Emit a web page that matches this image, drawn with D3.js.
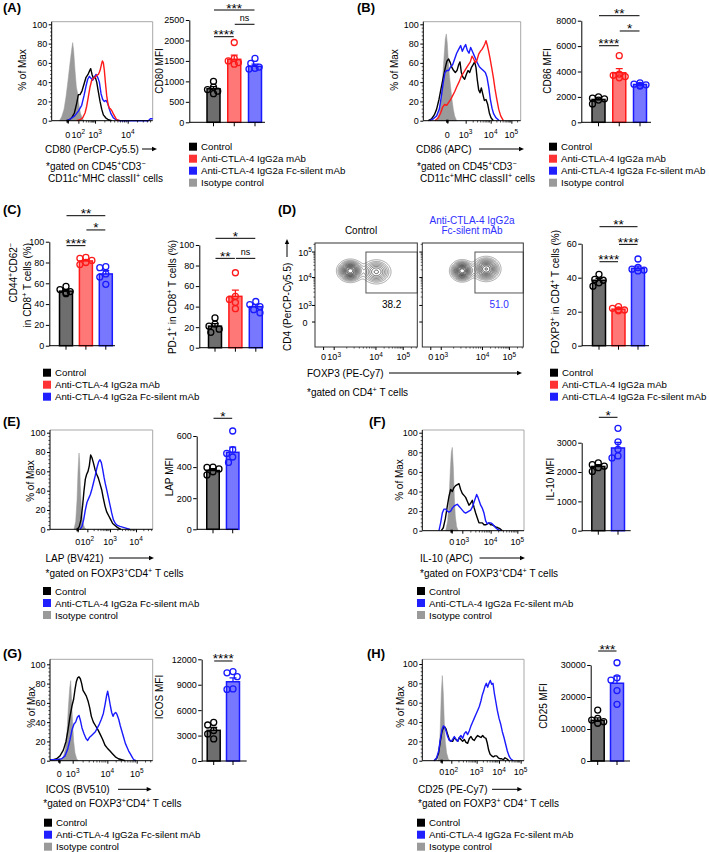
<!DOCTYPE html>
<html><head><meta charset="utf-8">
<script src="https://cdn.jsdelivr.net/npm/d3@7"></script>
<style>body{margin:0;background:#fff}</style>
</head><body><svg id="c" width="709" height="852"></svg>
<script>
// ---------------- DATA ----------------
const groupNames = ["Control", "Anti-CTLA-4 IgG2a mAb", "Anti-CTLA-4 IgG2a Fc-silent mAb", "Isotype control"];
const histTicksY = [0, 20, 40, 60, 80, 100];

// (A) CD80 histogram: [channel, % of max]
const cd80Iso  = [[23,0],[30,4],[37,12],[43,25],[49,42],[55,60],[60,74],[63,81],[66,72],[70,52],[74,35],[78,28],[82,16],[86,8],[91,3],[97,0]];
const cd80Ctrl = [[50,0],[60,3],[68,8],[75,18],[80,27],[85,27],[91,31],[97,38],[103,45],[109,48],[114,52],[117,54],[121,48],[125,44],[130,46],[135,40],[140,30],[145,20],[150,12],[155,6],[162,3],[170,1],[180,0]];
const cd80Fc   = [[45,0],[57,2],[69,5],[80,10],[90,16],[97,26],[103,36],[108,43],[113,46],[118,44],[123,42],[128,45],[133,48],[138,45],[143,40],[148,28],[153,22],[158,20],[163,21],[168,18],[173,12],[178,7],[185,3],[193,1],[205,0],[290,0],[296,2],[303,2]];
const cd80Igg  = [[75,0],[85,1],[93,3],[100,8],[105,15],[110,25],[115,35],[120,42],[125,44],[130,45],[135,47],[140,48],[145,52],[149,58],[152,62],[155,60],[158,52],[161,40],[165,26],[169,17],[173,13],[177,12],[181,10],[185,7],[190,4],[195,1],[203,0]];
const cd80TickCh = [48, 80, 130, 228];
const cd80TickLab = ["0", "10^2", "10^3", "10^4"];
// (A) CD80 MFI
const cd80Mean = [820, 1540, 1370];
const cd80Sem = [50, 100, 50];
const cd80Pts = [[1000,860,800,760,700],[1950,1560,1500,1460,1420],[1560,1440,1350,1320,1300]];
const cd80Ticks = [0, 500, 1000, 1500, 2000, 2500];
const cd80Sig = [[0,1,"****",2092],[1,2,"ns",2395],[0,2,"***",2744]];

// (B) CD86 histogram
const cd86Iso  = [[40,0],[48,8],[53,20],[58,45],[62,65],[66,85],[69,90],[72,80],[75,62],[78,48],[82,35],[86,22],[90,12],[94,5],[100,0]];
const cd86Ctrl = [[15,0],[25,2],[33,6],[40,12],[47,22],[53,33],[60,45],[66,55],[71,62],[76,64],[81,60],[86,55],[91,52],[96,50],[101,52],[106,58],[110,61],[114,50],[119,45],[124,43],[129,48],[134,52],[139,50],[144,55],[149,58],[154,61],[158,55],[162,42],[166,32],[170,29],[174,34],[178,28],[183,21],[188,22],[193,17],[198,8],[203,3],[210,0]];
const cd86Fc   = [[20,0],[30,2],[40,5],[48,12],[54,25],[60,40],[65,50],[70,52],[76,52],[82,56],[88,58],[94,64],[100,70],[106,74],[112,78],[117,72],[122,76],[127,79],[132,73],[137,70],[142,76],[147,72],[152,68],[157,64],[162,60],[168,56],[174,54],[180,52],[186,50],[191,45],[196,35],[201,22],[206,13],[211,7],[218,3],[228,0]];
const cd86Igg  = [[35,0],[45,3],[52,8],[58,14],[64,17],[70,16],[76,19],[82,22],[88,26],[94,30],[100,35],[107,40],[114,46],[121,50],[128,54],[135,58],[141,61],[146,67],[151,64],[156,60],[161,63],[166,69],[171,72],[176,74],[181,77],[185,80],[188,83],[192,78],[196,72],[200,65],[205,55],[210,45],[215,33],[220,23],[226,12],[232,5],[240,0]];
const cd86TickCh = [72, 127, 202, 264];
const cd86TickLab = ["0", "10^3", "10^4", "10^5"];
const cd86Mean = [1800, 3900, 2980];
const cd86Sem = [110, 330, 50];
const cd86Pts = [[2000,1900,1850,1750,1450],[5250,3800,3700,3600,3500],[3100,3000,2950,2900,2850]];
const cd86Ticks = [0, 2000, 4000, 6000, 8000];
const cd86Sig = [[0,1,"****",6031],[1,2,"*",7189],[0,2,"**",8394]];

// (C)
const pctTicks = [0, 20, 40, 60, 80, 100];
const cd44Mean = [52.5, 81.5, 69];
const cd44Sem = [1.3, 1.3, 3.2];
const cd44Pts = [[57,54,52,51,50],[85,84,82,80,78],[76,75,69,66,59]];
const cd44Sig = [[0,1,"****",96.2],[1,2,"*",111.3],[0,2,"**",125]];
const pd1Mean = [21, 50, 40];
const pd1Sem = [2.4, 6, 2];
const pd1Pts = [[29,23,21,18,15],[73,50,47,44,38],[45,42,40,37,34]];
const pd1Sig = [[0,1,"**",87],[1,2,"ns",87],[0,2,"*",106.5]];

// (D) contour populations [x channel, y channel, sdX, sdY, weight]
const ctrlPops = [[352,748,54,45,0.60],[612,738,64,52,0.40]];
const fcPops   = [[402,748,50,43,0.47],[646,766,60,50,0.53]];
const ctrlGate = [510, 1024, 532, 935];
const fcGate   = [534, 1024, 532, 935];
const foxp3GatePct = ["38.2", "51.0"];
const dTickXCh = [86, 192, 610, 883];
const dTickYCh = [246, 409, 684, 935];
const dTickLab = ["0", "10^3", "10^4", "10^5"];
const foxp3Mean = [38.5, 21.5, 45.5];
const foxp3Sem = [1.1, 0.6, 1.3];
const foxp3Pts = [[42,39,38.5,37,35],[23,22,21,21,20.5],[51,46,45,44.5,44]];
const foxp3Ticks = [0, 20, 40, 60];
const foxp3Sig = [[0,1,"****",49.4],[1,2,"****",59.6],[0,2,"**",70]];

// (E) LAP
const lapIso  = [[72,0],[77,8],[81,30],[84,60],[87,79],[89,70],[91,45],[94,22],[98,8],[103,2],[108,0]];
const lapCtrl = [[82,0],[88,3],[93,10],[98,25],[102,40],[106,52],[110,57],[114,60],[118,66],[122,77],[126,74],[130,69],[135,62],[140,57],[145,53],[150,47],[155,41],[160,32],[165,24],[170,18],[176,14],[182,10],[188,6],[195,4],[202,2],[212,0]];
const lapFc   = [[90,0],[96,3],[101,10],[106,20],[111,28],[116,32],[121,36],[126,42],[131,49],[136,56],[141,64],[146,70],[150,72],[154,69],[158,62],[162,54],[166,47],[170,41],[175,33],[180,25],[185,17],[190,10],[196,6],[202,4],[210,3],[220,2],[230,1],[240,0]];
const lapTickCh = [83, 112, 180, 258];
const lapTickLab = ["0", "10^2", "10^3", "10^4"];
const lapMean = [378, 495];
const lapSem = [10, 33];
const lapPts = [[400,398,388,370,350],[632,512,488,465,430]];
const lapTicks = [0, 200, 400, 600];
const lapSig = [[0,1,"*",714]];

// (F) IL-10
const il10Iso  = [[70,0],[76,10],[80,30],[84,62],[87,80],[90,85],[93,65],[96,35],[99,15],[103,4],[108,0]];
const il10Ctrl = [[57,0],[63,3],[69,12],[75,25],[80,35],[85,42],[90,40],[95,44],[100,46],[105,47],[110,48],[115,42],[120,38],[125,36],[130,34],[135,30],[140,26],[145,28],[150,31],[155,24],[160,18],[165,13],[170,8],[175,8],[180,8],[185,6],[190,6],[195,7],[200,8],[205,6],[210,6],[215,5],[220,4],[227,3],[233,2],[240,0]];
const il10Fc   = [[50,0],[55,8],[60,18],[65,22],[70,22],[75,20],[80,19],[85,20],[90,23],[95,25],[100,26],[105,27],[110,25],[115,23],[120,21],[125,19],[130,18],[135,19],[140,20],[145,21],[150,24],[155,29],[160,34],[163,37],[167,34],[171,30],[175,26],[180,23],[185,18],[190,10],[195,7],[200,8],[205,8],[210,7],[215,5],[220,3],[227,1],[235,0]];
const il10TickCh = [88, 120, 205, 285];
const il10TickLab = ["0", "10^3", "10^4", "10^5"];
const il10Mean = [2190, 2820];
const il10Sem = [50, 190];
const il10Pts = [[2310,2250,2200,2150,2020],[3490,3030,2770,2550,2480]];
const il10Ticks = [0, 1000, 2000, 3000];
const il10Sig = [[0,1,"*",3866]];

// (G) ICOS
const icosIso  = [[32,0],[40,4],[46,12],[51,30],[55,55],[59,75],[62,83],[65,60],[68,38],[71,20],[75,8],[80,2],[85,0]];
const icosCtrl = [[0,1],[10,1],[20,2],[30,5],[40,11],[48,20],[54,32],[60,46],[66,57],[71,64],[75,74],[79,82],[83,86],[87,87],[91,85],[95,80],[99,73],[104,70],[109,67],[114,62],[119,55],[124,46],[130,40],[137,36],[144,32],[151,27],[158,22],[165,16],[172,13],[180,10],[188,7],[196,4],[205,2],[215,1],[225,0]];
const icosFc   = [[0,1],[20,1],[35,2],[45,5],[53,12],[60,22],[66,32],[72,38],[77,40],[82,45],[87,47],[91,42],[96,34],[102,28],[108,23],[113,21],[118,24],[124,26],[130,28],[136,30],[142,34],[148,38],[154,43],[160,49],[165,58],[170,68],[173,72],[177,65],[181,57],[185,50],[189,46],[193,49],[197,50],[201,48],[206,43],[211,36],[216,30],[221,24],[226,18],[231,14],[236,10],[241,7],[246,4],[251,1],[258,0]];
const icosTickCh = [28, 68, 172, 260];
const icosTickLab = ["0", "10^3", "10^4", "10^5"];
const icosMean = [3620, 9350];
const icosSem = [340, 450];
const icosPts = [[4550,4250,3600,3200,2600],[10550,10400,9950,8500,8450]];
const icosTicks = [0, 3000, 6000, 9000, 12000];
const icosSig = [[0,1,"****",11800]];

// (H) CD25
const cd25Iso  = [[47,0],[51,10],[54,35],[57,70],[60,88],[63,70],[66,40],[69,20],[73,8],[78,2],[83,0]];
const cd25Ctrl = [[35,0],[43,2],[49,8],[54,20],[59,30],[63,34],[67,35],[71,33],[76,27],[81,22],[86,20],[91,20],[96,24],[101,22],[106,20],[111,24],[116,22],[121,20],[126,22],[131,19],[136,18],[141,23],[146,25],[151,22],[156,21],[161,24],[166,26],[171,25],[176,24],[181,26],[186,24],[191,23],[195,18],[199,11],[203,7],[208,5],[213,4],[218,5],[223,5],[228,3],[233,2],[238,2],[243,1],[248,3],[253,2],[260,0]];
const cd25Fc   = [[35,0],[43,3],[49,10],[54,22],[59,32],[63,36],[67,35],[71,31],[76,25],[81,21],[86,20],[91,22],[96,25],[101,22],[106,20],[111,24],[116,26],[121,23],[126,28],[131,30],[136,27],[141,31],[146,36],[151,40],[156,44],[161,48],[166,52],[171,56],[176,62],[180,68],[184,72],[188,77],[192,80],[196,76],[200,80],[204,83],[208,79],[212,80],[216,70],[220,62],[225,52],[230,44],[235,38],[240,30],[245,24],[250,17],[255,10],[260,5],[265,2],[273,0]];
const cd25TickCh = [58, 87, 163, 230, 295];
const cd25TickLab = ["0", "10^2", "10^3", "10^4", "10^5"];
const cd25Mean = [12700, 24300];
const cd25Sem = [750, 2200];
const cd25Pts = [[15900,13300,12800,12300,11800],[30700,26000,25300,22000,17700]];
const cd25Ticks = [0, 10000, 20000, 30000];
const cd25Sig = [[0,1,"***",34375]];

// ---------------- STYLE ----------------
const FONT = "'Liberation Sans', Arial, Helvetica, sans-serif";
const lineCol = {ctrl:"#000000", red:"#ff1a1a", blue:"#1a1aff", iso:"#9a9a9a"};
const barFill = {ctrl:"#6e6e6e", red:"#ff7878", blue:"#7878ff"};
const legCol = {ctrl:"#000000", red:"#ff3333", blue:"#1f1fff", iso:"#9a9a9a"};
const TICKFS = 9;

const svg = d3.select("#c");
svg.append("rect").attr("width",709).attr("height",852).attr("fill","#fff");
const root = svg.append("g").attr("font-family", FONT).attr("fill","#000");

function rich(t, str, fs) {
  const parts = str.split(/(\^\{[^}]*\})/);
  let shifted = false;
  parts.forEach(p => {
    if (!p) return;
    if (p.startsWith("^{")) {
      t.append("tspan").attr("font-size", fs*0.72).attr("dy", -fs*0.38).text(p.slice(2,-1));
      shifted = true;
    } else {
      t.append("tspan").attr("dy", shifted ? fs*0.38 : 0).text(p);
      shifted = false;
    }
  });
  return t;
}
function text(x, y, str, o={}) {
  const fs = o.fs || 10;
  const t = root.append("text").attr("x", x).attr("y", y).attr("font-size", fs)
    .attr("text-anchor", o.anchor || "start").attr("fill", o.fill || "#000");
  if (o.bold) t.attr("font-weight","bold");
  return rich(t, str, fs);
}
function rotText(xc, yc, str, o={}) {
  const fs = o.fs || 10;
  const t = root.append("text").attr("transform", `translate(${xc+fs*0.35},${yc}) rotate(-90)`)
    .attr("font-size", fs).attr("text-anchor", o.anchor || "middle");
  return rich(t, str, fs);
}
function tickLabel(g, x, y, lab, fs) {
  const t = g.append("text").attr("x", x).attr("y", y).attr("font-size", fs).attr("text-anchor","middle");
  const m = lab.split("^");
  t.append("tspan").text(m[0]);
  if (m[1]) t.append("tspan").attr("font-size", fs*0.72).attr("dy", -fs*0.38).text(m[1]);
}
function arrowH(x1, x2, y) {
  root.append("line").attr("x1",x1).attr("x2",x2-3).attr("y1",y).attr("y2",y).attr("stroke","#000").attr("stroke-width",1);
  root.append("path").attr("d",`M${x2},${y}L${x2-5},${y-2.2}L${x2-5},${y+2.2}Z`).attr("fill","#000");
}
function arrowV(x, y1, y2) {
  root.append("line").attr("x1",x).attr("x2",x).attr("y1",y1).attr("y2",y2+3).attr("stroke","#000").attr("stroke-width",1);
  root.append("path").attr("d",`M${x},${y2}L${x-2.2},${y2+5}L${x+2.2},${y2+5}Z`).attr("fill","#000");
}
function legend(x, y0, keys) {
  keys.forEach((k, i) => {
    const y = y0 + i*12;
    root.append("rect").attr("x", x).attr("y", y-4).attr("width", 8).attr("height", 8).attr("fill", legCol[k]);
    const name = {ctrl:groupNames[0], red:groupNames[1], blue:groupNames[2], iso:groupNames[3]}[k];
    text(x+12, y+3.6, name, {fs:9.7});
  });
}

// ---------------- HISTOGRAM ----------------
function histogram(p) {
  const g = root.append("g");
  const x = d3.scaleLinear().domain([0, p.chMax]).range([p.left, p.right]);
  const y = d3.scaleLinear().domain([0, 100]).range([p.zero, p.y100]);
  g.append("path").attr("d", `M${p.left},${p.top}H${p.right}V${p.zero}`).attr("stroke","#a8a8a8").attr("fill","none").attr("stroke-width",1);
  const area = d3.area().x(d => x(d[0])).y0(y(0)).y1(d => y(d[1]));
  const line = d3.line().x(d => x(d[0])).y(d => y(d[1]));
  p.curves.forEach(c => {
    if (c.fill) g.append("path").attr("d", area(c.data)).attr("fill", c.fill).attr("stroke", c.fill).attr("stroke-width",0.5);
    else g.append("path").attr("d", line(c.data)).attr("fill","none").attr("stroke", c.color).attr("stroke-width",1.4).attr("stroke-linejoin","round");
  });
  const ya = g.append("g").attr("transform",`translate(${p.left},0)`)
    .call(d3.axisLeft(y).tickValues(histTicksY).tickSize(3).tickSizeOuter(0).tickPadding(1.5));
  ya.attr("font-family", FONT).attr("font-size", TICKFS);
  ya.select(".domain").attr("d", `M0,${p.zero}V${p.top}`);
  const minors = d3.range(0, 101, 4).filter(v => v % 20 !== 0);
  g.selectAll(null).data(minors).join("line").attr("x1", p.left-1.6).attr("x2", p.left)
    .attr("y1", d => y(d)).attr("y2", d => y(d)).attr("stroke","#000").attr("stroke-width",0.7);
  const xa = g.append("g").attr("transform",`translate(0,${p.zero})`)
    .call(d3.axisBottom(x).tickValues(p.tickCh).tickSize(3).tickSizeOuter(0).tickFormat(""));
  xa.select(".domain").attr("d", `M${p.left},0H${p.right}`);
  // darker marker at the zero channel
  g.append("rect").attr("x", x(p.tickCh[0])-1.2).attr("y", p.zero-1).attr("width", 2.4).attr("height", 3).attr("fill","#000");
  const mins = [];
  const dec = p.tickCh.slice(1);
  for (let k = 0; k < dec.length; k++) {
    const a = dec[k], w = k < dec.length-1 ? dec[k+1]-dec[k] : dec[k]-dec[k-1];
    for (let m = 2; m <= 9; m++) { const c = a + Math.log10(m)*w; if (c < p.chMax) mins.push(c); }
  }
  g.selectAll(null).data(mins).join("line").attr("x1", d => x(d)).attr("x2", d => x(d))
    .attr("y1", p.zero).attr("y2", p.zero+1.8).attr("stroke","#000").attr("stroke-width",0.7);
  p.tickCh.forEach((c, i) => tickLabel(g, x(c), p.zero + p.labOff, p.tickLab[i], TICKFS));
}

// ---------------- BARS ----------------
function bars(p) {
  const g = root.append("g");
  const n = p.mean.length;
  const cats = d3.range(n);
  const y = d3.scaleLinear().domain([0, p.max]).range([p.zero, p.top]);
  const x = d3.scalePoint().domain(cats).range([p.c0, p.c1]);
  const bw = p.bw || 13;
  cats.forEach(i => {
    const k = p.keys[i];
    g.append("rect").attr("x", x(i)-bw/2).attr("y", y(p.mean[i])).attr("width", bw).attr("height", p.zero - y(p.mean[i]))
      .attr("fill", barFill[k]).attr("stroke", lineCol[k]).attr("stroke-width", 1.5);
    const yt = y(p.mean[i] + p.sem[i]);
    g.append("path").attr("d", `M${x(i)},${y(p.mean[i])}V${yt}M${x(i)-3.5},${yt}H${x(i)+3.5}`)
      .attr("stroke", lineCol[k]).attr("stroke-width", 1.3).attr("fill","none");
    const placed = [];
    const r = 3;
    p.pts[i].slice().sort((a,b)=>b-a).forEach(v => {
      const py = y(v);
      const offs = [0,-4.2,4.2,-2.1,2.1,-6,6];
      let ox = 0;
      for (const o of offs) {
        if (placed.every(q => Math.hypot(q[0]-o, q[1]-py) >= 2*r*0.95)) { ox = o; break; }
      }
      placed.push([ox, py]);
      g.append("circle").attr("cx", x(i)+ox).attr("cy", py).attr("r", r)
        .attr("fill","none").attr("stroke", lineCol[k]).attr("stroke-width", 1.3);
    });
  });
  const ya = g.append("g").attr("transform",`translate(${p.axisX},0)`)
    .call(d3.axisLeft(y).tickValues(p.ticks).tickSize(3.5).tickSizeOuter(0).tickPadding(1.5).tickFormat(d3.format("d")));
  ya.attr("font-family", FONT).attr("font-size", TICKFS);
  g.append("line").attr("x1", p.axisX).attr("x2", p.xEnd).attr("y1", p.zero).attr("y2", p.zero).attr("stroke","#000").attr("stroke-width",1);
  cats.forEach(i => g.append("line").attr("x1", x(i)).attr("x2", x(i)).attr("y1", p.zero).attr("y2", p.zero+4).attr("stroke","#000"));
  p.sig.forEach(s => {
    const ly = y(s[3]);
    const xa = x(s[0]) + 0.5, xb = x(s[1]) - 0.5;
    g.append("line").attr("x1", xa).attr("x2", xb).attr("y1", ly).attr("y2", ly).attr("stroke","#000").attr("stroke-width",1);
    const isNs = s[2] === "ns";
    g.append("text").attr("x", (xa+xb)/2).attr("y", isNs ? ly-3.5 : ly+2.5).attr("text-anchor","middle")
      .attr("font-size", isNs ? 9 : 13.5).text(s[2]);
  });
}

// ---------------- CONTOUR ----------------
function contourPlot(px0, px1, pops, gate, pct, pctCol, showY) {
  const top = 243, bot = 347;
  const g = root.append("g");
  const x = d3.scaleLinear().domain([0,1024]).range([px0, px1]);
  const y = d3.scaleLinear().domain([0,1024]).range([bot, top]);
  const N = 256, step = 4;
  const vals = new Float64Array(N*N);
  let mx = 0;
  for (let j = 0; j < N; j++) for (let i = 0; i < N; i++) {
    const cx = i*step, cy = j*step;
    let s = 0;
    pops.forEach(q => { s += q[4]/(q[2]*q[3]) * Math.exp(-((cx-q[0])**2/(2*q[2]*q[2]) + (cy-q[1])**2/(2*q[3]*q[3]))); });
    vals[j*N+i] = s; if (s > mx) mx = s;
  }
  for (let k = 0; k < vals.length; k++) vals[k] /= mx;
  const thr = [0.035,0.07,0.11,0.16,0.22,0.29,0.37,0.46,0.56,0.67,0.79,0.9];
  const cs = d3.contours().size([N,N]).thresholds(thr)(vals);
  const proj = d3.geoTransform({point(a,b){ this.stream.point(x(a*step), y(b*step)); }});
  const path = d3.geoPath(proj);
  g.selectAll(null).data(cs).join("path").attr("d", path).attr("fill","none")
    .attr("stroke", (d,k) => d3.interpolateRgb("#8a8a8a","#111")(Math.min(1, k/(thr.length-3))))
    .attr("stroke-width",0.8);
  g.append("rect").attr("x", x(gate[0])).attr("y", y(gate[3])).attr("width", x(gate[1])-x(gate[0])).attr("height", y(gate[2])-y(gate[3]))
    .attr("fill","none").attr("stroke","#555").attr("stroke-width",1);
  text((x(gate[0])+x(1024))/2, 307.5, pct, {anchor:"middle", fill:pctCol});
  g.append("rect").attr("x", px0).attr("y", top).attr("width", px1-px0).attr("height", bot-top).attr("fill","none").attr("stroke","#333").attr("stroke-width",1);
  dTickYCh.forEach((c,i) => {
    g.append("line").attr("x1", px0-3).attr("x2", px0).attr("y1", y(c)).attr("y2", y(c)).attr("stroke","#000");
    if (showY) tickLabel(g, px0-10, y(c)+3.5, dTickLab[i], TICKFS);
  });
  dTickXCh.forEach((c,i) => {
    g.append("line").attr("x1", x(c)).attr("x2", x(c)).attr("y1", bot).attr("y2", bot+3).attr("stroke","#000");
    tickLabel(g, x(c), bot+13, dTickLab[i], TICKFS);
  });
  const mx2 = [], my2 = [];
  for (let k = 1; k < 3; k++) for (let m = 2; m <= 9; m++) {
    mx2.push(dTickXCh[k] + Math.log10(m)*(dTickXCh[k+1]-dTickXCh[k]));
    my2.push(dTickYCh[k] + Math.log10(m)*(dTickYCh[k+1]-dTickYCh[k]));
  }
  for (let m = 2; m <= 9; m++) { const c = dTickXCh[3] + Math.log10(m)*(dTickXCh[3]-dTickXCh[2]); if (c < 1024) mx2.push(c);
    const cy = dTickYCh[3] + Math.log10(m)*(dTickYCh[3]-dTickYCh[2]); if (cy < 1024) my2.push(cy); }
  g.selectAll(null).data(mx2).join("line").attr("x1", d=>x(d)).attr("x2", d=>x(d)).attr("y1", bot).attr("y2", bot+1.6).attr("stroke","#000").attr("stroke-width",0.6);
  g.selectAll(null).data(my2).join("line").attr("x1", px0-1.6).attr("x2", px0).attr("y1", d=>y(d)).attr("y2", d=>y(d)).attr("stroke","#000").attr("stroke-width",0.6);
}

// ================= PANEL A =================
text(3, 12, "(A)", {fs:13, bold:true});
histogram({left:51.7, right:152.7, top:21.7, zero:120.7, y100:24.3, chMax:303, tickCh:cd80TickCh, tickLab:cd80TickLab, labOff:17,
  curves:[{data:cd80Iso, fill:lineCol.iso},{data:cd80Ctrl, color:lineCol.ctrl},{data:cd80Fc, color:lineCol.blue},{data:cd80Igg, color:lineCol.red}]});
rotText(22, 70, "% of Max");
text(45, 152.5, "CD80 (PerCP-Cy5.5)"); arrowH(142, 157, 149);
text(46, 169.5, "*gated on CD45^{+}CD3^{−}");
text(48, 181.5, "CD11c^{+}MHC classII^{+} cells");
bars({axisX:189.3, zero:122.3, top:20, max:2500, c0:213.5, c1:255, xEnd:265, keys:["ctrl","red","blue"],
  mean:cd80Mean, sem:cd80Sem, pts:cd80Pts, ticks:cd80Ticks, sig:cd80Sig});
rotText(159, 71, "CD80 MFI");
legend(189, 146.7, ["ctrl","red","blue","iso"]);

// ================= PANEL B =================
text(357, 12, "(B)", {fs:13, bold:true});
histogram({left:423.3, right:520.7, top:21.7, zero:120.7, y100:24.3, chMax:292, tickCh:cd86TickCh, tickLab:cd86TickLab, labOff:17,
  curves:[{data:cd86Iso, fill:lineCol.iso},{data:cd86Ctrl, color:lineCol.ctrl},{data:cd86Fc, color:lineCol.blue},{data:cd86Igg, color:lineCol.red}]});
rotText(394, 70, "% of Max");
text(416, 152.5, "CD86 (APC)"); arrowH(479, 524, 149);
text(417, 169.5, "*gated on CD45^{+}CD3^{−}");
text(420, 181.5, "CD11c^{+}MHC classII^{+} cells");
bars({axisX:581.3, zero:122.3, top:20.7, max:8000, c0:598.5, c1:640, xEnd:651, keys:["ctrl","red","blue"],
  mean:cd86Mean, sem:cd86Sem, pts:cd86Pts, ticks:cd86Ticks, sig:cd86Sig});
rotText(547, 71, "CD86 MFI");
legend(549, 146.7, ["ctrl","red","blue","iso"]);

// ================= PANEL C =================
text(3, 214, "(C)", {fs:13, bold:true});
bars({axisX:49.3, zero:345.7, top:241.7, max:100, c0:66, c1:105.8, xEnd:115, keys:["ctrl","red","blue"],
  mean:cd44Mean, sem:cd44Sem, pts:cd44Pts, ticks:pctTicks, sig:cd44Sig});
rotText(13, 243, "CD44^{+}CD62^{−}", {anchor:"end"});
rotText(27, 243, "in CD8^{+} T cells (%)", {anchor:"end"});
bars({axisX:199.3, zero:347.7, top:245, max:100, c0:215, c1:255.8, xEnd:263, keys:["ctrl","red","blue"],
  mean:pd1Mean, sem:pd1Sem, pts:pd1Pts, ticks:pctTicks, sig:pd1Sig});
rotText(172.5, 297, "PD-1^{+} in CD8^{+} T cells (%)");
legend(43, 372.7, ["ctrl","red","blue"]);

// ================= PANEL D =================
text(278, 214, "(D)", {fs:13, bold:true});
text(361, 233.5, "Control", {anchor:"middle"});
text(472, 223.5, "Anti-CTLA-4 IgG2a", {anchor:"middle", fill:"#2f2fff"});
text(472, 233.5, "Fc-silent mAb", {anchor:"middle", fill:"#2f2fff"});
contourPlot(315, 417.3, ctrlPops, ctrlGate, foxp3GatePct[0], "#000", true);
contourPlot(422.3, 523.3, fcPops, fcGate, foxp3GatePct[1], "#2f2fff", false);
rotText(287, 351, "CD4 (PerCP-Cy5.5)", {anchor:"start"});
arrowV(287, 257, 239);
text(307, 376.5, "FOXP3 (PE-Cy7)"); arrowH(389, 522, 373);
text(307, 395.5, "*gated on CD4^{+} T cells");
bars({axisX:581.7, zero:345.7, top:243.7, max:60, c0:599, c1:638, xEnd:649, keys:["ctrl","red","blue"],
  mean:foxp3Mean, sem:foxp3Sem, pts:foxp3Pts, ticks:foxp3Ticks, sig:foxp3Sig});
rotText(555, 292, "FOXP3^{+} in CD4^{+} T cells (%)");
legend(550, 372.7, ["ctrl","red","blue"]);

// ================= PANEL E =================
text(3, 426, "(E)", {fs:13, bold:true});
histogram({left:50, right:152.7, top:430, zero:529.3, y100:432.7, chMax:308, tickCh:lapTickCh, tickLab:lapTickLab, labOff:15.5,
  curves:[{data:lapIso, fill:lineCol.iso},{data:lapCtrl, color:lineCol.ctrl},{data:lapFc, color:lineCol.blue}]});
rotText(30.5, 481, "% of Max");
text(45.5, 561.5, "LAP (BV421)"); arrowH(109, 154, 558);
text(45.5, 577, "*gated on FOXP3^{+}CD4^{+} T cells");
bars({axisX:196.7, zero:529.3, top:436, max:600, c0:213, c1:232.7, xEnd:238, bw:12.5, keys:["ctrl","blue"],
  mean:lapMean, sem:lapSem, pts:lapPts, ticks:lapTicks, sig:lapSig});
rotText(169.5, 477, "LAP MFI");
legend(43, 591, ["ctrl","blue","iso"]);

// ================= PANEL F =================
text(369, 426, "(F)", {fs:13, bold:true});
histogram({left:422.3, right:524, top:430, zero:530.7, y100:432.7, chMax:305, tickCh:il10TickCh, tickLab:il10TickLab, labOff:14.5,
  curves:[{data:il10Iso, fill:lineCol.iso},{data:il10Ctrl, color:lineCol.ctrl},{data:il10Fc, color:lineCol.blue}]});
rotText(399, 480, "% of Max");
text(420, 561.5, "IL-10 (APC)"); arrowH(479.5, 525, 558);
text(420, 577, "*gated on FOXP3^{+}CD4^{+} T cells");
bars({axisX:581.7, zero:530.7, top:442.7, max:3000, c0:598.3, c1:618, xEnd:630.7, keys:["ctrl","blue"],
  mean:il10Mean, sem:il10Sem, pts:il10Pts, ticks:il10Ticks, sig:il10Sig});
rotText(550, 479, "IL-10 MFI");
legend(417, 591, ["ctrl","blue","iso"]);

// ================= PANEL G =================
text(3, 658, "(G)", {fs:13, bold:true});
histogram({left:50, right:152.7, top:659.3, zero:760.7, y100:664.3, chMax:308, tickCh:icosTickCh, tickLab:icosTickLab, labOff:16,
  curves:[{data:icosIso, fill:lineCol.iso},{data:icosCtrl, color:lineCol.ctrl},{data:icosFc, color:lineCol.blue}]});
rotText(31.5, 707, "% of Max");
text(45.7, 793, "ICOS (BV510)"); arrowH(118, 151.7, 789.3);
text(43.3, 807, "*gated on FOXP3^{+}CD4^{+} T cells");
bars({axisX:201.7, zero:761, top:659.3, max:12000, c0:213.7, c1:233, xEnd:246.7, keys:["ctrl","blue"],
  mean:icosMean, sem:icosSem, pts:icosPts, ticks:icosTicks, sig:icosSig});
rotText(159, 697, "ICOS MFI");
legend(44, 822.7, ["ctrl","blue","iso"]);

// ================= PANEL H =================
text(367, 658, "(H)", {fs:13, bold:true});
histogram({left:422.3, right:524, top:659.3, zero:760.7, y100:664, chMax:305, tickCh:cd25TickCh, tickLab:cd25TickLab, labOff:14.5,
  curves:[{data:cd25Iso, fill:lineCol.iso},{data:cd25Ctrl, color:lineCol.ctrl},{data:cd25Fc, color:lineCol.blue}]});
rotText(400.5, 707, "% of Max");
text(418, 793, "CD25 (PE-Cy7)"); arrowH(492, 522.3, 789.3);
text(418, 807, "*gated on FOXP3^{+} CD4^{+} T cells");
bars({axisX:590.7, zero:761, top:665, max:30000, c0:597.7, c1:617, xEnd:630, keys:["ctrl","blue"],
  mean:cd25Mean, sem:cd25Sem, pts:cd25Pts, ticks:cd25Ticks, sig:cd25Sig});
rotText(543, 706, "CD25 MFI");
legend(417, 822.7, ["ctrl","blue","iso"]);
</script></body></html>
